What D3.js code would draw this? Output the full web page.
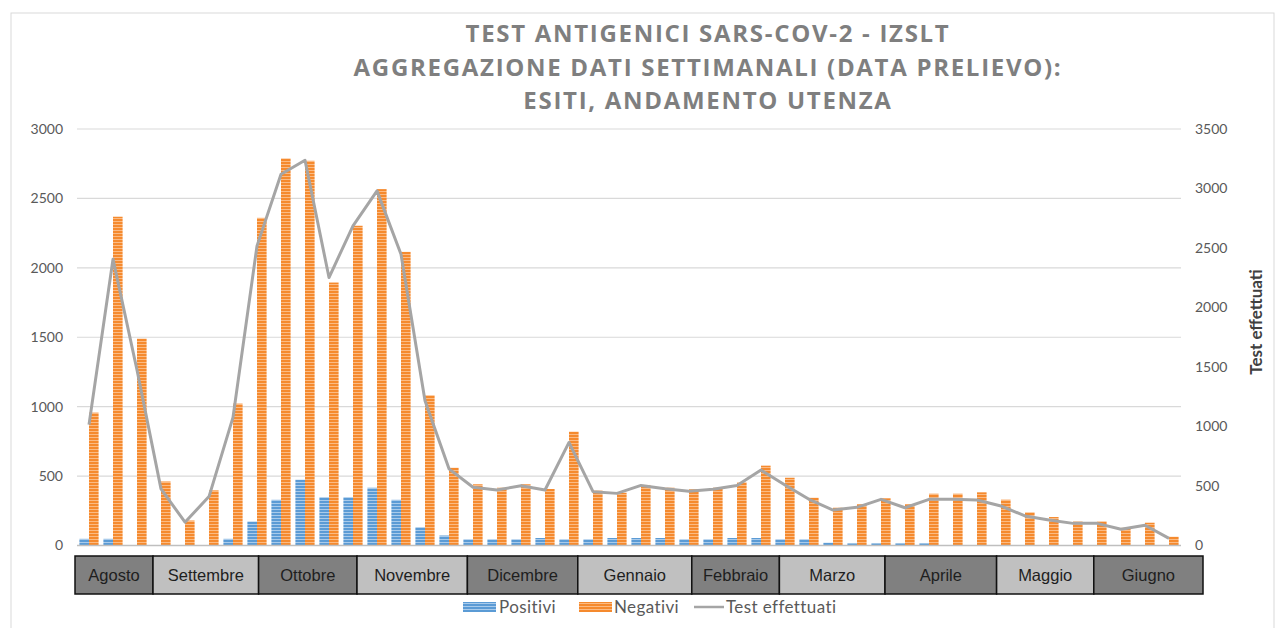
<!DOCTYPE html>
<html>
<head>
<meta charset="utf-8">
<script src="https://cdn.jsdelivr.net/npm/d3@7"></script>
<style>
  body { margin: 0; background: #fff; }
  svg { display: block; }
</style>
</head>
<body>
<div id="chart"></div>
<script>
// dati settimanali
var positivi = [48, 48, 0, 0, 0, 0, 48, 173, 329, 474, 348, 348, 416, 329, 132, 72,
    45, 45, 45, 54, 45, 45, 54, 54, 54, 45, 45, 54, 54, 45, 45, 20,
    15, 15, 15, 15, 0, 0, 0, 0, 0, 0, 0, 0, 0, 0];
var negativi = [957, 2368, 1490, 461, 180, 397, 1022, 2360, 2788, 2771, 1894, 2303, 2567, 2115, 1082, 560,
    441, 416, 441, 407, 820, 395, 380, 436, 416, 405, 416, 455, 575, 488, 344, 272,
    297, 340, 297, 373, 373, 383, 330, 239, 205, 174, 174, 128, 164, 63];
var testEffettuati = [1016, 2406, 1475, 476, 196, 411, 1077, 2518, 3120, 3237, 2252, 2686, 2980, 2448, 1217, 644,
    489, 466, 502, 466, 866, 452, 438, 505, 477, 455, 472, 505, 634, 508, 388, 298,
    321, 388, 317, 388, 388, 382, 332, 248, 214, 186, 186, 136, 170, 60];

// mesi sotto il grafico: nome e durata (in settimane)
var mesi = ["Agosto", "Settembre", "Ottobre", "Novembre", "Dicembre", "Gennaio",
    "Febbraio", "Marzo", "Aprile", "Maggio", "Giugno"];
var mesiSpan = [3.25, 4.4, 4.1, 4.6, 4.6, 4.75, 3.65, 4.4, 4.65, 4.05, 4.55];

var leftTicks = [0, 500, 1000, 1500, 2000, 2500, 3000];
var rightTicks = [0, 500, 1000, 1500, 2000, 2500, 3000, 3500];

var titleLines = ["TEST ANTIGENICI SARS-COV-2 - IZSLT",
    "AGGREGAZIONE DATI SETTIMANALI (DATA PRELIEVO):",
    "ESITI, ANDAMENTO UTENZA"];

var W = 1279, H = 628;
var plot = {left: 77, right: 1181, top: 129, bottom: 545.5};

var svg = d3.select("#chart").append("svg")
    .attr("width", W)
    .attr("height", H);

// pattern a righe orizzontali per le barre
var defs = svg.append("defs");
function stripes(id, base, light) {
    var p = defs.append("pattern")
        .attr("id", id)
        .attr("patternUnits", "userSpaceOnUse")
        .attr("width", 6).attr("height", 3);
    p.append("rect").attr("width", 6).attr("height", 3).attr("fill", base);
    p.append("rect").attr("y", 2).attr("width", 6).attr("height", 1).attr("fill", light);
}
stripes("pBlue", "#5b9bd5", "#a9cbeb");
stripes("pOrange", "#f58a2e", "#fbbb84");

// cornice
svg.append("rect")
    .attr("x", 11).attr("y", 13)
    .attr("width", 1263).attr("height", 640)
    .attr("fill", "none")
    .attr("stroke", "#d9d9d9");

// titolo
svg.append("g").selectAll("text")
    .data(titleLines)
    .enter().append("text")
    .attr("x", 708)
    .attr("y", function(d, i) { return 42 + i * 33.5; })
    .attr("text-anchor", "middle")
    .style("font-family", "'Open Sans', sans-serif")
    .style("font-weight", "bold")
    .style("font-size", "24px")
    .style("letter-spacing", "1.7px")
    .style("fill", "#7f7f7f")
    .text(function(d) { return d; });

var weeks = d3.range(negativi.length);

var x = d3.scaleBand()
    .domain(weeks)
    .range([plot.left, plot.right])
    .paddingInner(0.2)
    .paddingOuter(0.1);

var xSub = d3.scaleBand()
    .domain(["pos", "neg"])
    .range([0, x.bandwidth()]);

var yLeft = d3.scaleLinear().domain([0, 3000]).range([plot.bottom, plot.top]);
var yRight = d3.scaleLinear().domain([0, 3500]).range([plot.bottom, plot.top]);

// griglia
svg.append("g").selectAll("line")
    .data(leftTicks.slice(1))
    .enter().append("line")
    .attr("x1", plot.left).attr("x2", plot.right)
    .attr("y1", function(d) { return yLeft(d); })
    .attr("y2", function(d) { return yLeft(d); })
    .attr("stroke", "#d9d9d9")
    .attr("stroke-width", 1.2);

// asse sinistro
var axL = svg.append("g")
    .attr("transform", "translate(" + 63 + ",0)")
    .call(d3.axisLeft(yLeft).tickValues(leftTicks).tickFormat(d3.format("d")).tickSize(0).tickPadding(0));
axL.select(".domain").remove();
axL.selectAll("text")
    .style("font-family", "Lato, sans-serif")
    .style("font-size", "14px")
    .style("fill", "#595959");

// asse destro
var axR = svg.append("g")
    .attr("transform", "translate(" + 1195 + ",0)")
    .call(d3.axisRight(yRight).tickValues(rightTicks).tickFormat(d3.format("d")).tickSize(0).tickPadding(0));
axR.select(".domain").remove();
axR.selectAll("text")
    .style("font-family", "Lato, sans-serif")
    .style("font-size", "14px")
    .style("fill", "#595959");

svg.append("text")
    .attr("transform", "translate(1262,322) rotate(-90)")
    .attr("text-anchor", "middle")
    .style("font-family", "Lato, sans-serif")
    .style("font-weight", "bold")
    .style("font-size", "17px")
    .style("fill", "#404040")
    .text("Test effettuati");

// barre
var groups = svg.append("g").selectAll("g")
    .data(weeks)
    .enter().append("g")
    .attr("transform", function(d) { return "translate(" + x(d) + ",0)"; });

groups.append("rect")
    .attr("x", xSub("pos"))
    .attr("width", xSub.bandwidth())
    .attr("y", function(d) { return yLeft(positivi[d]); })
    .attr("height", function(d) { return plot.bottom - yLeft(positivi[d]); })
    .attr("fill", "url(#pBlue)");

groups.append("rect")
    .attr("x", xSub("neg"))
    .attr("width", xSub.bandwidth())
    .attr("y", function(d) { return yLeft(negativi[d]); })
    .attr("height", function(d) { return plot.bottom - yLeft(negativi[d]); })
    .attr("fill", "url(#pOrange)");

// linea di base
svg.append("line")
    .attr("x1", plot.left).attr("x2", plot.right)
    .attr("y1", plot.bottom).attr("y2", plot.bottom)
    .attr("stroke", "#bfbfbf")
    .attr("stroke-width", 1.5);

// linea test effettuati
var line = d3.line()
    .x(function(d, i) { return x(i) + x.bandwidth() / 2; })
    .y(function(d) { return yRight(d); });

svg.append("path")
    .datum(testEffettuati)
    .attr("d", line)
    .attr("fill", "none")
    .attr("stroke", "#a5a5a5")
    .attr("stroke-width", 3)
    .attr("stroke-linejoin", "round");

// fascia dei mesi
var mEnd = d3.cumsum(mesiSpan);
var xm = d3.scaleLinear().domain([0, d3.sum(mesiSpan)]).range([75, 1203]);

var mg = svg.append("g").selectAll("g")
    .data(mesi)
    .enter().append("g");

mg.append("rect")
    .attr("x", function(d, i) { return xm(mEnd[i] - mesiSpan[i]); })
    .attr("width", function(d, i) { return xm(mEnd[i]) - xm(mEnd[i] - mesiSpan[i]); })
    .attr("y", 556)
    .attr("height", 38)
    .attr("fill", function(d, i) { return i % 2 === 0 ? "#808080" : "#c0c0c0"; })
    .attr("stroke", "#111")
    .attr("stroke-width", 1.5);

mg.append("text")
    .attr("x", function(d, i) { return (xm(mEnd[i] - mesiSpan[i]) + xm(mEnd[i])) / 2; })
    .attr("y", 581)
    .attr("text-anchor", "middle")
    .style("font-family", "'Liberation Sans', Arial, sans-serif")
    .style("font-size", "16.5px")
    .style("fill", "#1e1e1e")
    .text(function(d) { return d; });

// legenda
var legend = svg.append("g").attr("transform", "translate(0,607)");

legend.append("rect").attr("x", 463).attr("y", -5).attr("width", 33).attr("height", 10)
    .attr("fill", "url(#pBlue)");
legend.append("text").attr("x", 499).attr("y", 6).text("Positivi");

legend.append("rect").attr("x", 579).attr("y", -5).attr("width", 33).attr("height", 10)
    .attr("fill", "url(#pOrange)");
legend.append("text").attr("x", 614).attr("y", 6).text("Negativi");

legend.append("line").attr("x1", 694).attr("x2", 724).attr("y1", 0).attr("y2", 0)
    .attr("stroke", "#a5a5a5").attr("stroke-width", 2.5);
legend.append("text").attr("x", 726).attr("y", 6).text("Test effettuati");

legend.selectAll("text")
    .style("font-family", "Lato, sans-serif")
    .style("font-size", "17px")
    .style("letter-spacing", "0.4px")
    .style("fill", "#595959");
</script>
</body>
</html>
